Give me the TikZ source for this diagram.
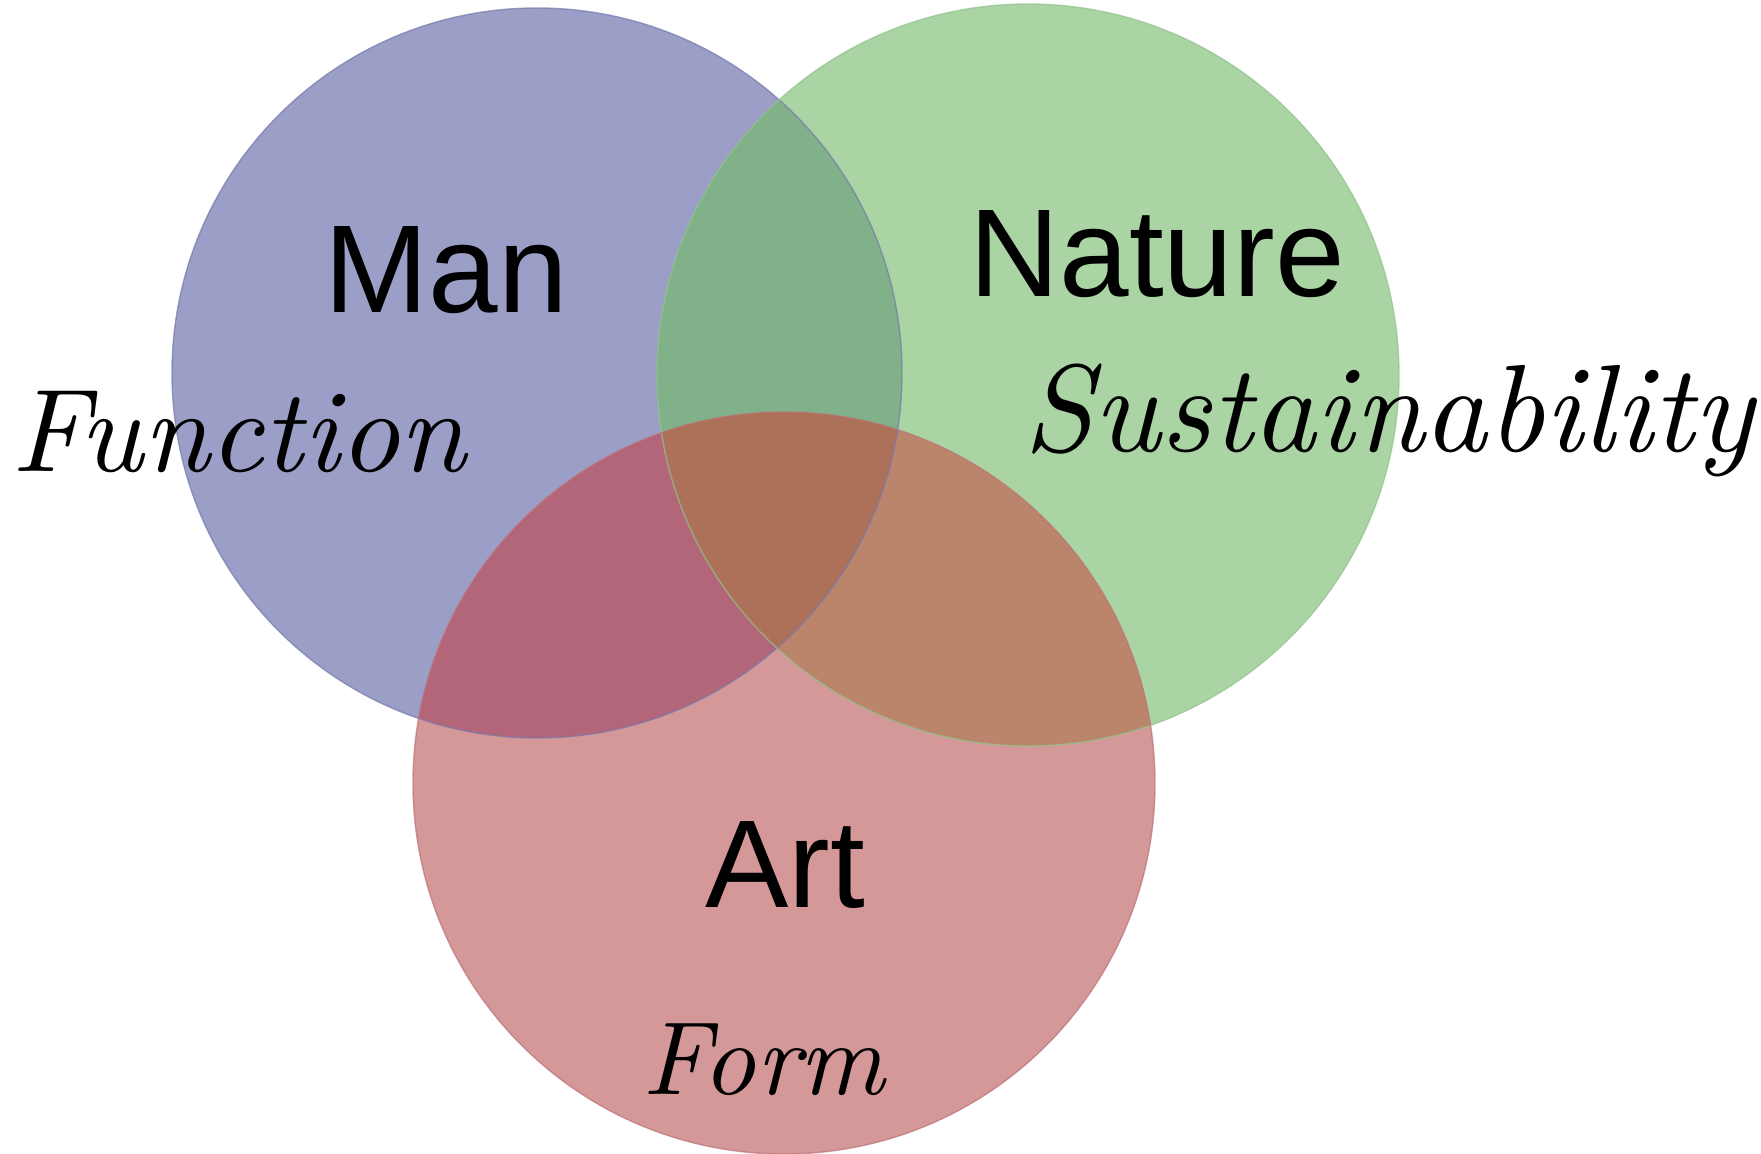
\documentclass[tikz,border=0pt]{standalone}
\usepackage{fontspec}
\usepackage{graphicx}
\newfontfamily\arialf{Liberation Sans}
\definecolor{blueC}{RGB}{155,158,198}
\definecolor{greenC}{RGB}{170,212,164}
\definecolor{redC}{RGB}{212,152,153}
\definecolor{bgC}{RGB}{128,177,136}
\definecolor{rbC}{RGB}{179,101,121}
\definecolor{rgC}{RGB}{186,133,107}
\definecolor{cenC}{RGB}{173,112,88}
\definecolor{blueE}{RGB}{118,122,172}
\definecolor{greenE}{RGB}{145,195,140}
\definecolor{redE}{RGB}{188,115,120}
\begin{document}
\begin{tikzpicture}[x=0.5pt,y=-0.5pt,
  bigword/.style={font=\arialf\fontsize{62.5pt}{70pt}\selectfont, text=black, inner sep=0pt, anchor=center},
  scriptword/.style={font=\itshape, text=black, inner sep=0pt, anchor=center}]
\useasboundingbox (0,0) rectangle (1761,1154);
\fill[white] (0,0) rectangle (1761,1154);
\coordinate (cm) at (537,373);
\coordinate (cn) at (1028,375);
\coordinate (ca) at (784,783);
% solo regions
\fill[blueC] (cm) circle[radius=182.5pt];
\fill[greenC] (cn) circle[radius=185.5pt];
\fill[redC] (ca) circle[radius=185.5pt];
% red & green
\begin{scope}
  \clip (cn) circle[radius=185.5pt];
  \fill[rgC] (ca) circle[radius=185.5pt];
\end{scope}
% overlaps with blue
\begin{scope}
  \clip (cm) circle[radius=182.5pt];
  \fill[bgC] (cn) circle[radius=185.5pt];
  \fill[rbC] (ca) circle[radius=185.5pt];
  \clip (cn) circle[radius=185.5pt];
  \fill[cenC] (ca) circle[radius=185.5pt];
\end{scope}
% outlines
\draw[blueE, line width=0.7pt, draw opacity=0.7] (cm) circle[radius=182.5pt];
\draw[greenE, line width=0.7pt, draw opacity=0.7] (cn) circle[radius=185.5pt];
\draw[redE, line width=0.7pt, draw opacity=0.7] (ca) circle[radius=185.5pt];
% labels
\node[bigword] (man) at (446,270) {Man};
\node[bigword] (nature) at (1157,254) {Nature};
\node[bigword] (art) at (785,865) {Art};
\node[scriptword] (function) at (239,432) {\resizebox{227pt}{!}{Function}};
\node[scriptword] (sustain) at (1389,420) {\resizebox{365pt}{!}{Sustainability}};
\node[scriptword] (form) at (764,1060) {\resizebox{121pt}{!}{Form}};
\end{tikzpicture}
\end{document}
